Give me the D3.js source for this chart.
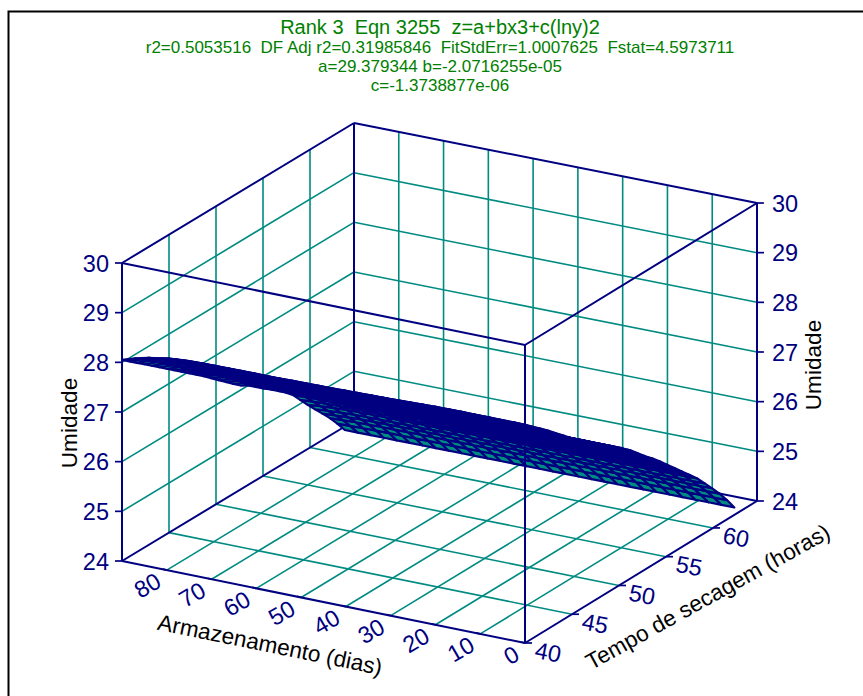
<!DOCTYPE html>
<html><head><meta charset="utf-8">
<script src="https://cdnjs.cloudflare.com/ajax/libs/d3/7.8.5/d3.min.js"></script>
<style>html,body{margin:0;padding:0;background:#fff}svg{display:block}text{font-family:"Liberation Sans",Arial,sans-serif}</style>
</head><body><svg id="c" width="863" height="696"></svg>
<script>
const titleLines = ["Rank 3  Eqn 3255  z=a+bx3+c(lny)2",
  "r2=0.5053516  DF Adj r2=0.31985846  FitStdErr=1.0007625  Fstat=4.5973711",
  "a=29.379344 b=-2.0716255e-05",
  "c=-1.3738877e-06"];
const dayTicks = [0,10,20,30,40,50,60,70,80];
const hourTicks = [40,45,50,55,60];
const moistTicks = [24,25,26,27,28,29,30];
const dayLabel = "Armazenamento (dias)";
const hourLabel = "Tempo de secagem (horas)";
const moistLabel = "Umidade";

// surface
const surfDays = [3,5.9,8.8,11.7,14.6,17.5,20.4,23.3,26.2,29.1,32,34.9,37.8,40.7,43.6,46.5,49.4,52.3,55.2,58.1,61,63.9,66.8,69.7,72.6,75.5,78.4,81.3,84.2,87.1,90];
const surfHours = [40,40.79,41.58,42.37,43.16,43.95,44.74,45.53,46.32,47.11,47.9,48.69,49.48,50.27,51.06,51.85,52.64,53.43,54.22,55.01,55.8,56.59,57.38,58.17,58.96,59.75,60.54,61.33,62.12,62.91,63.7];
const moistAtDay3 = [28.33,28.25,28.15,28.02,27.89,27.76,27.62,27.48,27.34,27.21,27.09,26.97,26.85,26.73,26.61,26.49,26.36,26.21,26.06,25.92,25.77,25.61,25.45,25.29,25.13,24.97,24.78,24.59,24.39,24.17,23.93];
const moistAtDay90 = [28.05,27.93,27.81,27.69,27.57,27.45,27.33,27.21,27.09,26.97,26.85,26.73,26.6,26.47,26.34,26.21,26.09,26.0,25.88,25.76,25.65,25.53,25.41,25.27,25.08,24.89,24.71,24.53,24.35,24.15,23.93];
const dayBlend = [0,0,0,0,0,0,0,.02,.04,.06,.08,.1,.11,.13,.15,.17,.18,.19,.2,.21,.22,.22,.23,.23,.24,.25,.27,.33,.48,.7,1];

const NAVY = "#000080", TEAL = "#008b82", GREEN = "#008000";
const svg = d3.select("#c");

// oblique projection: linear scales summed, with a slight perspective sag at the far corner
const sxDayX = d3.scaleLinear().domain([0,90]).range([0,-403]);
const sxDayY = d3.scaleLinear().domain([0,90]).range([0,-82]);
const syHourX = d3.scaleLinear().domain([40,64.68]).range([0,232]);
const syHourY = d3.scaleLinear().domain([40,64.68]).range([0,-142]);
const szY = d3.scaleLinear().domain([24,30]).range([0,-298]);
const sag = d => d3.scaleLinear().domain([0,90]).range([0,2])(d);
const hourFrac = d3.scaleLinear().domain([40,64.68]).range([0,1]);
const originX = 525, originY = 643;
const P = (d,h,m) => [originX + sxDayX(d) + syHourX(h), originY + sxDayY(d) + syHourY(h) + szY(m) + sag(d)*hourFrac(h)];
const dMax = 90, hMax = 64.68, hMin = 40, mMin = 24, mMax = 30;
const line = (a,b,col,w) => svg.append("line").attr("x1",a[0]).attr("y1",a[1]).attr("x2",b[0]).attr("y2",b[1]).attr("stroke",col).attr("stroke-width",w);
const GW = 1.6, FW = 2;

// grid
dayTicks.filter(d=>d>0).forEach(d=>{
  line(P(d,hMin,mMin),P(d,hMax,mMin),TEAL,GW);
  line(P(d,hMax,mMin),P(d,hMax,mMax),TEAL,GW);
});
hourTicks.filter(h=>h>40).forEach(h=>{
  line(P(0,h,mMin),P(dMax,h,mMin),TEAL,GW);
  line(P(dMax,h,mMin),P(dMax,h,mMax),TEAL,GW);
});
moistTicks.filter(m=>m>24&&m<30).forEach(m=>{
  line(P(dMax,hMin,m),P(dMax,hMax,m),TEAL,GW);
  line(P(dMax,hMax,m),P(0,hMax,m),TEAL,GW);
});

// back frame
[[P(dMax,hMax,mMin),P(dMax,hMax,mMax)],
 [P(dMax,hMin,mMax),P(dMax,hMax,mMax)],
 [P(dMax,hMax,mMax),P(0,hMax,mMax)],
 [P(dMax,hMin,mMin),P(dMax,hMax,mMin)],
 [P(dMax,hMax,mMin),P(0,hMax,mMin)],
 [P(dMax,hMin,mMin),P(dMax,hMin,mMax)],
 [P(0,hMax,mMin),P(0,hMax,mMax)],
 [P(dMax,hMin,mMin),P(0,hMin,mMin)],
 [P(0,hMin,mMin),P(0,hMax,mMin)]].forEach(s=>line(s[0],s[1],NAVY,FW));

// surface, far cells first
const moist = (i,j) => moistAtDay3[j] + dayBlend[i]*(moistAtDay90[j]-moistAtDay3[j]);
const cells = [];
for (let j=surfHours.length-2;j>=0;j--) for (let i=surfDays.length-2;i>=0;i--) {
  const c = [[i,j],[i+1,j],[i+1,j+1],[i,j+1]].map(([a,b])=>P(surfDays[a],surfHours[b],moist(a,b)));
  cells.push(c);
}
svg.append("g").selectAll("path").data(cells).join("path")
  .attr("d",c=>"M"+c.join("L")+"Z").attr("fill",TEAL).attr("stroke",NAVY).attr("stroke-width",2.2).attr("stroke-linejoin","round");

// front frame over the surface
[[P(dMax,hMin,mMax),P(0,hMin,mMax)],
 [P(0,hMin,mMax),P(0,hMax,mMax)],
 [P(0,hMin,mMin),P(0,hMin,mMax)],
 [P(0,hMax,mMin),P(0,hMax,mMax)]].forEach(s=>line(s[0],s[1],NAVY,FW));

// ticks and tick labels
const tickText = (x,y,t,anchor,rot) => svg.append("text").attr("transform",`translate(${x},${y}) rotate(${rot})`)
  .attr("text-anchor",anchor).attr("dominant-baseline","central").attr("fill",NAVY).attr("font-size",23.5).text(t);
moistTicks.forEach(m=>{
  const l = P(dMax,hMin,m), r = P(0,hMax,m);
  line(l,[l[0]-7,l[1]],NAVY,1.7); line(r,[r[0]+7,r[1]],NAVY,1.7);
  tickText(l[0]-13,l[1]+0.5,m,"end",0);
  tickText(r[0]+15,r[1]+0.5,m,"start",0);
});
dayTicks.forEach(d=>{
  const p = P(d,hMin,mMin);
  line(p,[p[0]-4,p[1]-1],NAVY,1.7);
  tickText(p[0]-8,p[1]+9,d,"end",-30);
});
hourTicks.forEach(h=>{
  const p = P(0,h,mMin);
  line(p,[p[0]+7,p[1]],NAVY,1.7);
  tickText(p[0]+23,p[1]+9.5,h,"middle",11);
});

// axis labels
const axisText = (x,y,t,rot) => svg.append("text").attr("transform",`translate(${x},${y}) rotate(${rot})`)
  .attr("text-anchor","middle").attr("dominant-baseline","central").attr("fill","#000").attr("font-size",22.6).text(t);
axisText(270,645,dayLabel,11.5);
axisText(708,597,hourLabel,-29);
axisText(69,423,moistLabel,-90);
axisText(813,365,moistLabel,-90);

// title
const titleY = [27,47,66,85], titleSize = [20,17,17,17];
titleLines.forEach((t,i)=>svg.append("text").attr("x",440).attr("y",titleY[i]).attr("text-anchor","middle")
  .attr("dominant-baseline","central").attr("fill",GREEN).attr("font-size",titleSize[i]).attr("xml:space","preserve").style("white-space","pre").text(t));

// outer frame
svg.append("path").attr("d","M863,11.5H8.5V696").attr("fill","none").attr("stroke","#000").attr("stroke-width",2);
</script></body></html>
